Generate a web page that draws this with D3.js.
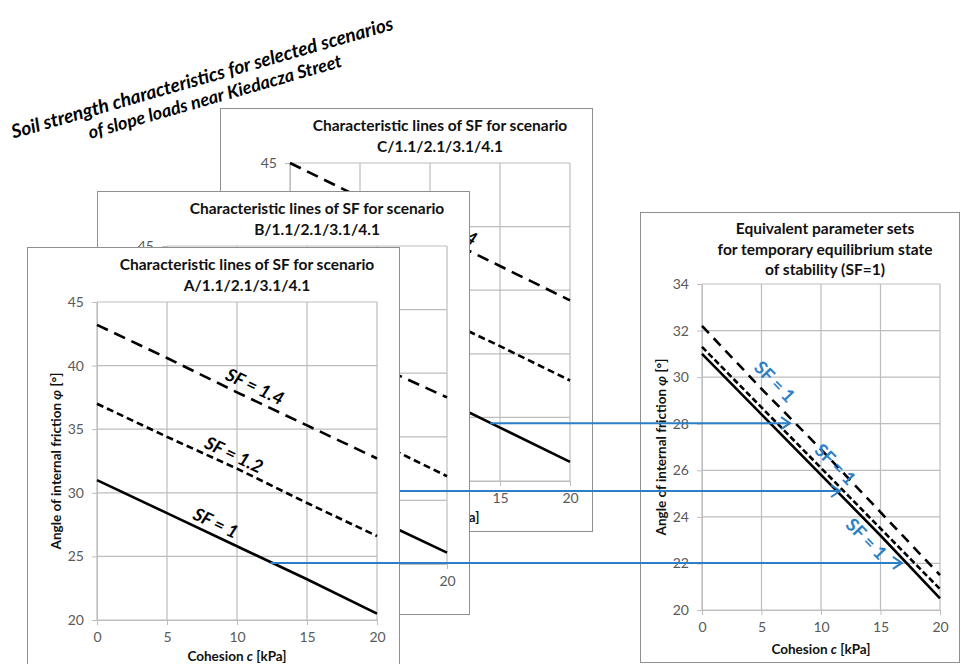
<!DOCTYPE html>
<html>
<head>
<meta charset="utf-8">
<script src="https://cdn.jsdelivr.net/npm/d3@7"></script>
<style>
  body { margin: 0; background: #fff; }
  svg { font-family: Lato, "Open Sans", sans-serif; }
</style>
</head>
<body>
<div id="chart"></div>
<script>
// ---- data ----
const cohesion = [0, 5, 10, 15, 20];
const cTicks = [0, 5, 10, 15, 20];
const phiTicks = [20, 25, 30, 35, 40, 45];
const phiTicksEq = [20, 22, 24, 26, 28, 30, 32, 34];

const sfNames = ["SF = 1", "SF = 1.2", "SF = 1.4"];

// scenario A
const phiA_sf10 = [31.0, 28.4, 25.8, 23.2, 20.5];
const phiA_sf12 = [37.0, 34.4, 31.9, 29.2, 26.6];
const phiA_sf14 = [43.2, 40.6, 37.9, 35.3, 32.7];
// scenario B
const phiB_sf10 = [31.3, 28.7, 26.1, 23.5, 20.9];
const phiB_sf12 = [37.7, 35.0, 32.3, 29.6, 26.9];
const phiB_sf14 = [43.3, 40.7, 38.2, 35.6, 33.1];
// scenario C
const phiC_sf10 = [32.2, 29.5, 26.9, 24.2, 21.5];
const phiC_sf12 = [38.5, 35.9, 33.2, 30.6, 27.9];
const phiC_sf14 = [45.0, 42.3, 39.6, 36.9, 34.2];

// where the SF labels sit along each line (cohesion)
const labelAtC = [8.1, 9.4, 10.9];
// arrows: start on SF=1 line of each scenario, end in the right chart
const arrowFromC = { A: 12.4, B: 10.7, C: 14.3 };
const arrowToC = { A: 16.8, B: 11.6, C: 7.4 };
// blue SF = 1 labels in the right chart
const eqLabelC = [6.0, 11.1, 13.7];
const eqLabelPhi = [29.75, 26.2, 23.0];

const dashes = [null, "7,4", "12,7"];
const eqDashes = [null, "6,3", "10,7"];
const blue = "#2a7fc6";
const gridCol = "#bdbdbd";
const frameCol = "#8f8f8f";

const svg = d3.select("#chart").append("svg")
  .attr("width", 961).attr("height", 664);

function styleAxis(ax) {
  ax.attr("font-size", 14).attr("font-family", "Lato, sans-serif");
  ax.select(".domain").attr("stroke", gridCol);
  ax.selectAll(".tick line").attr("stroke", gridCol);
  ax.selectAll(".tick text").attr("fill", "#595959");
}

function plotArea(p, x, y, xt, yt, pw, ph, xtY) {
  // gridlines
  p.selectAll(".gx").data(xt).join("line")
    .attr("x1", d => x(d)).attr("x2", d => x(d))
    .attr("y1", 0).attr("y2", ph)
    .attr("stroke", gridCol).attr("stroke-width", 1.2);
  p.selectAll(".gy").data(yt).join("line")
    .attr("x1", 0).attr("x2", pw)
    .attr("y1", d => y(d)).attr("y2", d => y(d))
    .attr("stroke", gridCol).attr("stroke-width", 1.2);

  const ay = p.append("g")
    .call(d3.axisLeft(y).tickValues(yt).tickSize(5).tickPadding(8));
  styleAxis(ay);
  const ax = p.append("g").attr("transform", `translate(0,${ph})`)
    .call(d3.axisBottom(x).tickValues(xt).tickSize(5).tickPadding(7));
  styleAxis(ax);

  // axis titles
  const ty = p.append("text")
    .attr("transform", `translate(-39,${ph / 2}) rotate(-90)`)
    .attr("text-anchor", "middle").attr("dominant-baseline", "middle")
    .attr("font-size", 13.5).attr("font-weight", "bold").attr("fill", "#111");
  ty.append("tspan").text("Angle of internal friction ");
  ty.append("tspan").attr("font-style", "italic").text("φ");
  ty.append("tspan").text(" [°]");

  const tx = p.append("text")
    .attr("x", pw / 2).attr("y", ph + xtY)
    .attr("text-anchor", "middle")
    .attr("font-size", 13.5).attr("font-weight", "bold").attr("fill", "#111");
  tx.append("tspan").text("Cohesion ");
  tx.append("tspan").attr("font-style", "italic").text("c");
  tx.append("tspan").text(" [kPa]");
}

function arrow(x1, x2, yv) {
  svg.append("line")
    .attr("x1", x1).attr("x2", x2).attr("y1", yv).attr("y2", yv)
    .attr("stroke", blue).attr("stroke-width", 2);
  svg.append("path")
    .attr("d", `M${x2 - 9},${yv - 6}L${x2},${yv}L${x2 - 9},${yv + 6}`)
    .attr("fill", "none").attr("stroke", blue).attr("stroke-width", 2);
}

// ---- right chart: equivalent parameter sets ----
const eq = { ox: 640, oy: 212, pw: 238, ph: 326 };
const eqG = svg.append("g").attr("transform", `translate(${eq.ox},${eq.oy})`);
eqG.append("rect").attr("x", 0.5).attr("y", 0.5)
  .attr("width", 319).attr("height", 450)
  .attr("fill", "#fff").attr("stroke", frameCol);
["Equivalent parameter sets", "for temporary equilibrium state", "of stability (SF=1)"]
  .forEach((t, i) => {
    eqG.append("text").attr("x", 185).attr("y", 22 + i * 20.5)
      .attr("text-anchor", "middle").attr("font-size", 15.5)
      .attr("font-weight", "bold").attr("fill", "#111").text(t);
  });
const eqP = eqG.append("g").attr("transform", "translate(62,72)");
const xEq = d3.scaleLinear().domain([0, 20]).range([0, eq.pw]);
const yEq = d3.scaleLinear().domain([20, 34]).range([eq.ph, 0]);
plotArea(eqP, xEq, yEq, cTicks, phiTicksEq, eq.pw, eq.ph, 44);

const eqSeries = [phiA_sf10, phiB_sf10, phiC_sf10];
const eqLine = d3.line().x((d, i) => xEq(cohesion[i])).y(d => yEq(d));
eqSeries.forEach((s, k) => {
  eqP.append("path").datum(s)
    .attr("d", eqLine).attr("fill", "none")
    .attr("stroke", "#000").attr("stroke-width", 2.6)
    .attr("stroke-dasharray", eqDashes[k]);
});
const eqAngle = Math.atan2(yEq(phiA_sf10[4]) - yEq(phiA_sf10[0]), xEq(20) - xEq(0)) * 180 / Math.PI;
eqLabelC.forEach((c, i) => {
  eqP.append("text")
    .attr("transform", `translate(${xEq(c)},${yEq(eqLabelPhi[i])}) rotate(${eqAngle})`)
    .attr("text-anchor", "middle").attr("dominant-baseline", "middle")
    .attr("font-size", 18).attr("font-weight", "bold").attr("fill", blue)
    .text("SF = 1");
});

// ---- scenario charts (drawn back to front) ----
const panels = [
  { name: "C", ox: 220, oy: 108, series: [phiC_sf10, phiC_sf12, phiC_sf14] },
  { name: "B", ox: 97, oy: 191, series: [phiB_sf10, phiB_sf12, phiB_sf14] },
  { name: "A", ox: 27, oy: 247, series: [phiA_sf10, phiA_sf12, phiA_sf14] }
];

const FW = 372, FH = 423;
const PW = 280, PH = 318, PX = 70, PY = 55;
const x = d3.scaleLinear().domain([0, 20]).range([0, PW]);
const y = d3.scaleLinear().domain([20, 45]).range([PH, 0]);
const line = d3.line().x((d, i) => x(cohesion[i])).y(d => y(d));

const panelGroups = [];
panels.forEach(pn => {
  const g = svg.append("g").attr("transform", `translate(${pn.ox},${pn.oy})`);
  panelGroups.push(g);
  g.append("rect").attr("x", 0.5).attr("y", 0.5)
    .attr("width", FW).attr("height", FH)
    .attr("fill", "#fff").attr("stroke", frameCol);
  ["Characteristic lines of SF for scenario", pn.name + "/1.1/2.1/3.1/4.1"].forEach((t, i) => {
    g.append("text").attr("x", 220).attr("y", 23 + i * 20.5)
      .attr("text-anchor", "middle").attr("font-size", 15.5)
      .attr("font-weight", "bold").attr("fill", "#111").text(t);
  });
  const p = g.append("g").attr("transform", `translate(${PX},${PY})`);
  plotArea(p, x, y, cTicks, phiTicks, PW, PH, 41);

  pn.series.forEach((s, k) => {
    p.append("path").datum(s)
      .attr("d", line).attr("fill", "none")
      .attr("stroke", "#000").attr("stroke-width", 2.6)
      .attr("stroke-dasharray", dashes[k]);
    const ang = Math.atan2(y(s[4]) - y(s[0]), x(20) - x(0)) * 180 / Math.PI;
    const c = labelAtC[k];
    const yv = s[0] + (s[4] - s[0]) * c / 20;
    p.append("text")
      .attr("transform", `translate(${x(c)},${y(yv)}) rotate(${ang})`)
      .attr("y", -6).attr("text-anchor", "middle")
      .attr("font-size", 18).attr("font-weight", "bold").attr("font-style", "italic")
      .attr("fill", "#000").text(sfNames[k]);
  });

  // arrow from the SF = 1 line to the right chart
  const s1 = pn.series[0];
  const c0 = arrowFromC[pn.name];
  const phi0 = s1[0] + (s1[4] - s1[0]) * c0 / 20;
  const ya = pn.oy + PY + y(phi0);
  arrow(pn.ox + PX + x(c0), eq.ox + 62 + xEq(arrowToC[pn.name]), ya);
});

// drop texts of the back charts that are completely hidden by a chart in front
panelGroups.forEach((g, i) => {
  const covers = panels.slice(i + 1).map(pn => ({ x0: pn.ox, y0: pn.oy, x1: pn.ox + FW, y1: pn.oy + FH + 60 }));
  g.selectAll("text").each(function () {
    const b = this.getBoundingClientRect();
    if (covers.some(r => b.left >= r.x0 && b.right <= r.x1 && b.top >= r.y0 && b.bottom <= r.y1)) {
      d3.select(this).remove();
    }
  });
});

// ---- rotated overall caption ----
const cap = svg.append("g").attr("transform", "translate(204,84) rotate(-16)");
cap.append("text").attr("x", 0).attr("y", 0).attr("text-anchor", "middle")
  .attr("font-size", 19).attr("font-weight", "bold").attr("font-style", "italic")
  .text("Soil strength characteristics for selected scenarios");
cap.append("text").attr("x", 7).attr("y", 21.5).attr("text-anchor", "middle")
  .attr("font-size", 18).attr("font-weight", "bold").attr("font-style", "italic")
  .text("of slope loads near Kiedacza Street");
</script>
</body>
</html>
